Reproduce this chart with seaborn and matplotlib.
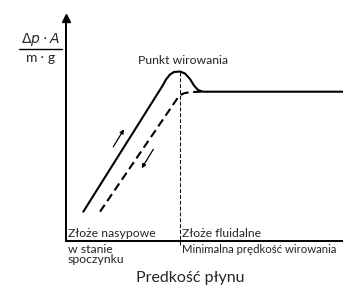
"""
Schematic: pressure drop vs fluid velocity for a fluidised bed.
"""
import numpy as np
import pandas as pd
import seaborn as sns
import matplotlib.pyplot as plt

sns.set_theme(style='white')
plt.rcParams['font.family'] = ['Lato', 'DejaVu Sans']

# rising curve (solid), fluid velocity vs dp*A/(m*g), arbitrary units
up_x = [17.3, 97, 100, 104, 108, 114, 119, 124, 128, 132, 137, 277]
up_y = [29.3, 156, 161.5, 166.5, 169, 169.5, 167.5, 162, 155.5, 151, 149.3, 149.3]
# falling curve (dashed)
down_x = [34, 113, 115.5, 118, 121, 126, 137]
down_y = [29.3, 145, 146.5, 147.7, 148.3, 149, 149.3]
# minimum fluidisation velocity
u_mf = 114
v_peak = 169.5
# direction arrows (start, end)
arrow_up = [(47.3, 94.3), (58, 111.7)]
arrow_down = [(87.3, 91.7), (75.7, 72.7)]

df_up = pd.DataFrame({'u': up_x, 'dp': up_y})
df_down = pd.DataFrame({'u': down_x, 'dp': down_y})

fig = plt.figure(figsize=(3.43, 2.86), dpi=100)
ax = fig.add_axes([66 / 343, 45 / 286, 277 / 343, 223 / 286])

sns.lineplot(data=df_up, x='u', y='dp', sort=False, estimator=None,
             color='black', lw=1.5, ax=ax)
sns.lineplot(data=df_down, x='u', y='dp', sort=False, estimator=None,
             color='black', lw=1.5, ax=ax)
ax.lines[-1].set_dashes((4, 2.2))
ax.plot([u_mf, u_mf], [v_peak, -4], color='black', lw=0.7,
        dashes=(4, 2), clip_on=False)

for (x0, y0), (x1, y1) in [arrow_up, arrow_down]:
    ax.annotate('', xy=(x1, y1), xytext=(x0, y0),
                arrowprops=dict(arrowstyle='-|>', color='black', lw=0.9,
                                mutation_scale=6, shrinkA=0, shrinkB=0))

ax.set_xlim(0, 277)
ax.set_ylim(0, 223)
ax.set_xticks([])
ax.set_yticks([])
ax.set_xlabel('')
ax.set_ylabel('')
sns.despine(ax=ax)
for s in ['left', 'bottom']:
    ax.spines[s].set_linewidth(1.4)
    ax.spines[s].set_color('black')
ax.plot(0, 1, marker='^', color='black', markersize=6,
        transform=ax.transAxes, clip_on=False)

# y label as a fraction
fig.text(40 / 343, 1 - 39 / 286, r'$\mathit{\Delta p}\cdot\mathit{A}$',
         ha='center', va='center', fontsize=10)
fig.text(41 / 343, 1 - 60 / 286, r'm $\cdot$ g', ha='center', va='center',
         fontsize=10)
fig.add_artist(plt.Line2D([19 / 343, 62 / 343], [1 - 49 / 286] * 2,
                          color='black', lw=1))

ax.text(117, 180, 'Punkt wirowania', ha='center', va='center', fontsize=8.8)
ax.text(2, 2, 'Złoże nasypowe', ha='left', va='bottom', fontsize=8.8)
ax.text(115.7, 2, 'Złoże fluidalne', ha='left', va='bottom', fontsize=8.8)
ax.text(2, -3, 'w stanie\nspoczynku', ha='left', va='top', fontsize=8.8,
        linespacing=0.9)
ax.text(115.7, -3, 'Minimalna prędkość wirowania', ha='left', va='top',
        fontsize=8.2, clip_on=False)
fig.text(190 / 343, 1 - 278 / 286, 'Predkość płynu', ha='center',
         va='center', fontsize=11.5)

fig.savefig('out.png', dpi=100)
